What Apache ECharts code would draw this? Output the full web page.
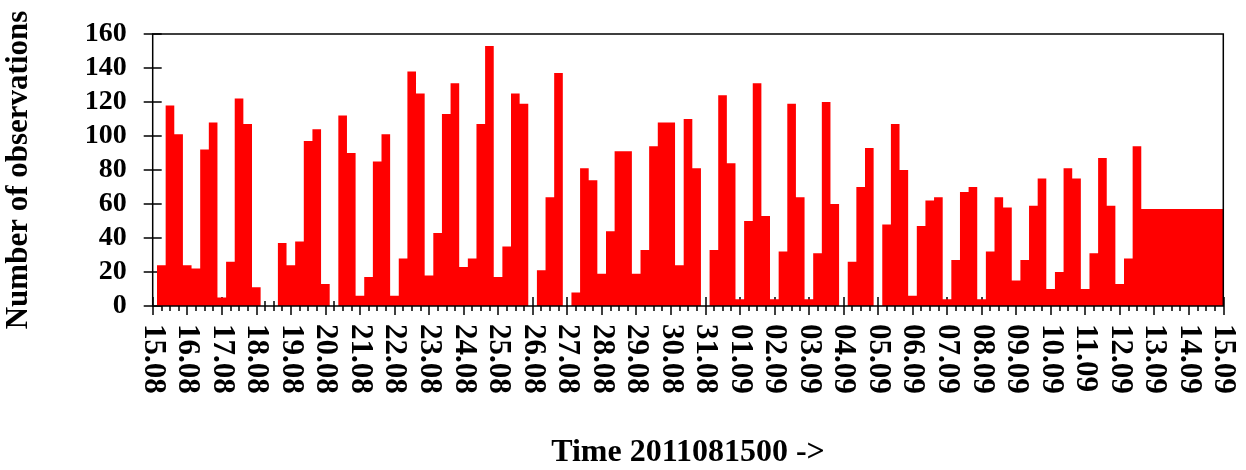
<!DOCTYPE html>
<html>
<head>
<meta charset="utf-8">
<script src="https://cdn.jsdelivr.net/npm/echarts@6/dist/echarts.min.js"></script>
<style>
  html, body { margin: 0; padding: 0; background: #fff; }
  #chart { width: 1246px; height: 470px; }
</style>
</head>
<body>
<div id="chart"></div>
<script>
// Day tick labels (one per day, 15.08 .. 15.09)
const dayLabels = ['15.08','16.08','17.08','18.08','19.08','20.08','21.08','22.08','23.08','24.08',
  '25.08','26.08','27.08','28.08','29.08','30.08','31.08','01.09','02.09','03.09','04.09',
  '05.09','06.09','07.09','08.09','09.09','10.09','11.09','12.09','13.09','14.09','15.09'];

// Number of observations every 6 hours (00, 06, 12, 18 UTC), starting 15.08 00h
const obsAugust = [
  0, 24, 118, 101,    24, 22, 92, 108,    5, 26, 122, 107,    11, 0, 0, 37,
  24, 38, 97, 104,    13, 0, 112, 90,     6, 17, 85, 101,     6, 28, 138, 125,
  18, 43, 113, 131,   23, 28, 107, 153,   17, 35, 125, 119,   0, 21, 64, 137,
  0, 8, 81, 74,       19, 44, 91, 91,     19, 33, 94, 108,    108, 24, 110, 81
];
const obsSeptember = [
  0, 33, 124, 84,     4, 50, 131, 53,     4, 32, 119, 64,     4, 31, 120, 60,
  0, 26, 70, 93,      0, 48, 107, 80,     6, 47, 62, 64,      4, 27, 67, 70,
  4, 32, 64, 58,      15, 27, 59, 75,     10, 20, 81, 75,     10, 31, 87, 59,
  13, 28, 94, 57,     57, 57, 57, 57,     57, 57, 57, 57,     57
];
const yTicks = [0, 20, 40, 60, 80, 100, 120, 140, 160];

const counts = obsAugust.concat(obsSeptember);
const seriesData = counts.map((v, i) => [i, v]);
const slotsPerDay = 4;
const xMax = (dayLabels.length - 1) * slotsPerDay;

const FONT = "'Liberation Serif', 'Times New Roman', 'DejaVu Serif', serif";
const tickStyle = { color: '#000', width: 1.5 };

const chart = echarts.init(document.getElementById('chart'), null, { renderer: 'canvas' });
chart.setOption({
  animation: false,
  backgroundColor: '#fff',
  grid: {
    left: 152.7, right: 22.7, top: 34, bottom: 164,
    containLabel: false,
    outerBoundsMode: 'none',
    show: true, z: 10,
    borderColor: '#000', borderWidth: 1.5,
    backgroundColor: 'transparent'
  },
  xAxis: [
    {
      type: 'value', position: 'bottom', min: 0, max: xMax, interval: slotsPerDay,
      z: 0,
      axisLine: { show: false },
      axisTick: { show: true, inside: true, length: 9, lineStyle: tickStyle },
      minorTick: { show: true, splitNumber: 4, length: 5, lineStyle: tickStyle },
      splitLine: { show: false },
      axisLabel: {
        rotate: -90, margin: 18, showMinLabel: true, showMaxLabel: true,
        fontFamily: FONT, fontWeight: 'bold', fontSize: 31, color: '#000',
        formatter: v => dayLabels[Math.round(v / slotsPerDay)] || ''
      },
      name: 'Time 2011081500 ->',
      nameLocation: 'middle', nameGap: 131,
      nameTextStyle: { fontFamily: FONT, fontWeight: 'bold', fontSize: 32, color: '#000' }
    },
    {
      type: 'value', position: 'top', min: 0, max: xMax, interval: slotsPerDay,
      z: 0,
      axisLine: { show: false },
      axisTick: { show: true, inside: true, length: 9, lineStyle: tickStyle },
      minorTick: { show: true, splitNumber: 4, length: 5, lineStyle: tickStyle },
      splitLine: { show: false },
      axisLabel: { show: false }
    }
  ],
  yAxis: [
    {
      type: 'value', position: 'left', min: yTicks[0], max: yTicks[yTicks.length - 1], interval: 20,
      z: 0,
      axisLine: { show: false },
      axisTick: { show: true, inside: true, length: 9, lineStyle: tickStyle },
      splitLine: { show: false },
      axisLabel: {
        margin: 26, fontFamily: FONT, fontWeight: 'bold', fontSize: 28, color: '#000'
      },
      name: 'Number of observations',
      nameLocation: 'middle', nameGap: 118, nameRotate: 90,
      nameTextStyle: { fontFamily: FONT, fontWeight: 'bold', fontSize: 31, color: '#000' }
    },
    {
      type: 'value', position: 'right', min: yTicks[0], max: yTicks[yTicks.length - 1], interval: 20,
      z: 0,
      axisLine: { show: false },
      axisTick: { show: true, inside: true, length: 9, lineStyle: tickStyle },
      splitLine: { show: false },
      axisLabel: { show: false }
    }
  ],
  series: [
    {
      // histogram boxes centred on each 6-hour time point
      type: 'line',
      step: 'middle',
      xAxisIndex: 0, yAxisIndex: 0,
      data: seriesData,
      showSymbol: false,
      symbol: 'none',
      clip: true,
      lineStyle: { color: '#ff0000', width: 1, opacity: 0 },
      areaStyle: { color: '#ff0000', opacity: 1 },
      z: 2
    }
  ]
});
</script>
</body>
</html>
